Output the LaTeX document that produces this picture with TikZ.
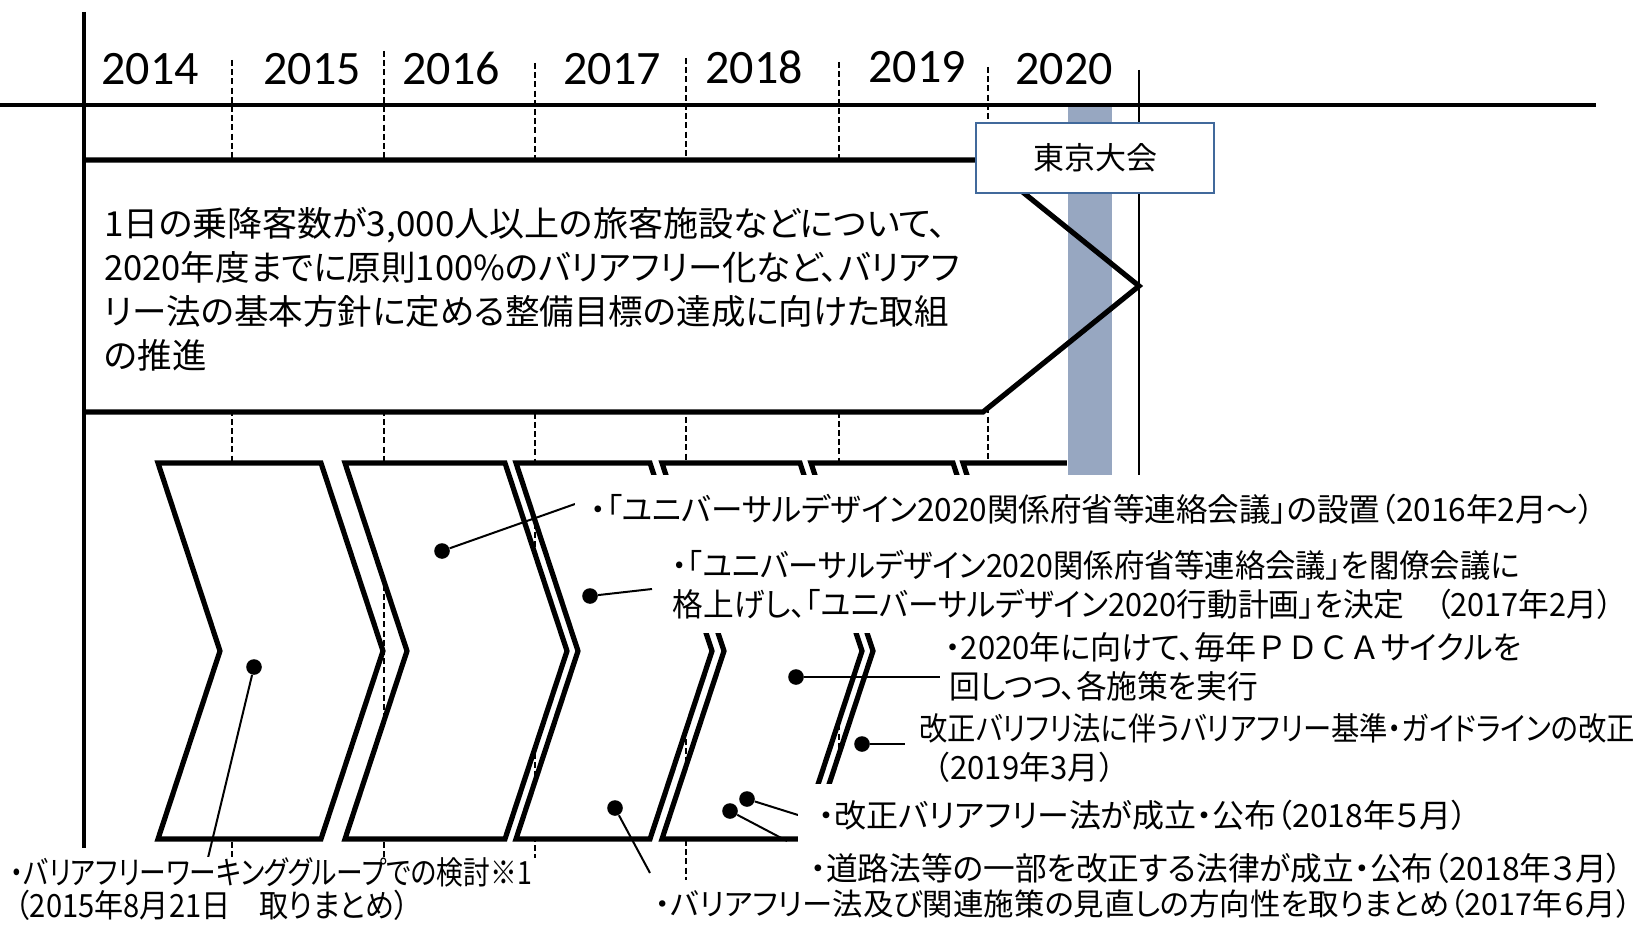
\documentclass[tikz,border=0pt]{standalone}
\usepackage{fontspec}
\usepackage{graphicx}
\newfontfamily\jpfont[RawFeature=+palt]{Noto Sans CJK JP}
\newfontfamily\yrfont{Carlito}
\newcommand\hs[2]{\scalebox{#1}[1]{#2}}
\newcommand\fw[1]{{\addfontfeature{RawFeature=-palt}#1}}
\definecolor{barfill}{RGB}{151,167,193}
\definecolor{boxblue}{RGB}{65,105,155}
\begin{document}
\begin{tikzpicture}[x=0.5pt,y=-0.5pt,
  axis/.style={line width=2.4pt},
  sep/.style={line width=0.8pt, dash pattern=on 3pt off 1.6pt},
  chev/.style={fill=white, draw=black, line width=2.6pt, line join=miter},
  bigarrow/.style={line width=2.6pt, line join=miter},
  yearlbl/.style={font=\yrfont\fontsize{24}{28}\selectfont, anchor=base, inner sep=0pt},
  leader/.style={line width=1pt},
  dot/.style={circle, fill=black, inner sep=0pt, minimum size=7.8pt},
  note/.style={font=\jpfont\fontsize{16}{19.5}\selectfont, align=left, fill=white, anchor=west, inner ysep=0pt},
]
\useasboundingbox (0,0) rectangle (1638,925);

% year separators
\draw[sep] (232,60) -- (232,857);
\draw[sep] (384,51) -- (384,857);
\draw[sep] (535,63) -- (535,858);
\draw[sep] (686,58) -- (686,880);
\draw[sep] (839,62) -- (839,845);
\draw[sep] (988,67) -- (988,845);
\draw[line width=1pt] (1139,70) -- (1139,480);

% big arrow fill
\fill[white] (84,160) -- (983,160) -- (1139,286) -- (983,412) -- (84,412) -- cycle;

% chevrons
\foreach \L/\R in {158/321, 345/505, 516/650, 662/800, 811/953, 963/1100}
  \draw[chev] (\L,463) -- (\R,463) -- ({\R+62},651) -- (\R,839) -- (\L,839) -- ({\L+62},651) -- cycle;

% grey bar
\draw[fill=barfill, draw=white, line width=0.5pt] (1067,107) rectangle (1112,475);

% big arrow outline
\draw[bigarrow] (84,160) -- (983,160) -- (1139,286) -- (983,412) -- (84,412);

% axes
\draw[axis] (0,105) -- (1596,105);
\draw[axis] (84,12) -- (84,848);

% Tokyo box
\node[draw=boxblue, line width=1.2pt, fill=white, minimum width=119pt, minimum height=35pt,
      font=\jpfont\fontsize{15.5}{18}\selectfont] (tokyo) at (1095,158) {東京大会};

% years
\node[yearlbl] (y14) at (150,85) {2014};
\node[yearlbl] (y15) at (312,85) {2015};
\node[yearlbl] (y16) at (451,85) {2016};
\node[yearlbl] (y17) at (612,85) {2017};
\node[yearlbl] (y18) at (754,83.5) {2018};
\node[yearlbl] (y19) at (917,83) {2019};
\node[yearlbl] (y20) at (1064,85) {2020};

% main text
\node[font=\jpfont\fontsize{17.25}{22}\selectfont, align=left, anchor=west, inner sep=0pt] (goal) at (104,289)
  {\hs{1.015}{1日の乗降客数が3,000人以上の旅客施設などについて、}\\
   2020年度までに原則100\%のバリアフリー化など、バリアフ\\
   リー法の基本方針に定める整備目標の達成に向けた取組\\
   の推進};

% dots
\node[dot] (d1) at (254,667) {};
\node[dot] (d2) at (442,551) {};
\node[dot] (d3) at (590,596) {};
\node[dot] (d4) at (615,808) {};
\node[dot] (d5) at (796,677) {};
\node[dot] (d6) at (862,744) {};
\node[dot] (d7) at (747,799) {};
\node[dot] (d8) at (730,811) {};
\coordinate (e1) at (207,862);
\coordinate (e2) at (575,504);
\coordinate (e3) at (652,589);
\coordinate (e4) at (650,873);
\coordinate (e5) at (940,677);
\coordinate (e6) at (905,744);
\coordinate (e7) at (798,815);
\coordinate (e8) at (787,841);
\foreach \i in {1,...,8} \draw[leader] (d\i) -- (e\i);

% notes
\node[note, inner xsep=7.5pt, minimum height=34pt] (nA) at (575,509)
  {\hs{0.986}{・「ユニバーサルデザイン2020関係府省等連絡会議」の設置（2016年2月～）}};
\node[note, inner xsep=6pt, minimum height=48pt] (nB) at (660,584.5)
  {\hs{0.947}{・「ユニバーサルデザイン2020関係府省等連絡会議」を閣僚会議に}\\
   \hs{0.96}{格上げし、「ユニバーサルデザイン2020行動計画」を決定　（2017年2月）}};
\node[note, inner xsep=2.5pt, minimum height=41pt] (nC) at (940,667)
  {\hs{0.97}{・2020年に向けて、毎年\fw{ＰＤＣＡ}サイクルを}\\
   \hspace{2pt}\hs{0.96}{回しつつ、各施策を実行}};
\node[note, inner xsep=0pt, minimum height=43pt] (nD) at (905,748)
  {\hspace{7pt}\hs{0.885}{改正バリフリ法に伴うバリアフリー基準・ガイドラインの改正}\\
   \hspace{7pt}\hs{0.97}{\fw{（2019年3月）}}};
\node[note, inner xsep=10pt, minimum height=31pt] (nE) at (798,815)
  {・改正バリアフリー法が成立・公布（2018年５月）};
\node[note, inner xsep=0pt] (nF) at (810,868)
  {\hs{0.99}{・道路法等の一部を改正する法律が成立・公布（2018年３月）}};
\node[note, inner xsep=0pt, font=\jpfont\fontsize{15.2}{18}\selectfont] (nG) at (655,904)
  {・バリアフリー法及び関連施策の見直しの方向性を取りまとめ（2017年６月）};
\node[note, inner xsep=0pt, font=\jpfont\fontsize{16}{16.7}\selectfont] (nH) at (10,889)
  {\hs{0.835}{・バリアフリーワーキンググループでの検討※1}\\
   \hspace{2.5pt}\hs{0.91}{（2015年8月21日　取りまとめ）}};
\end{tikzpicture}
\end{document}
